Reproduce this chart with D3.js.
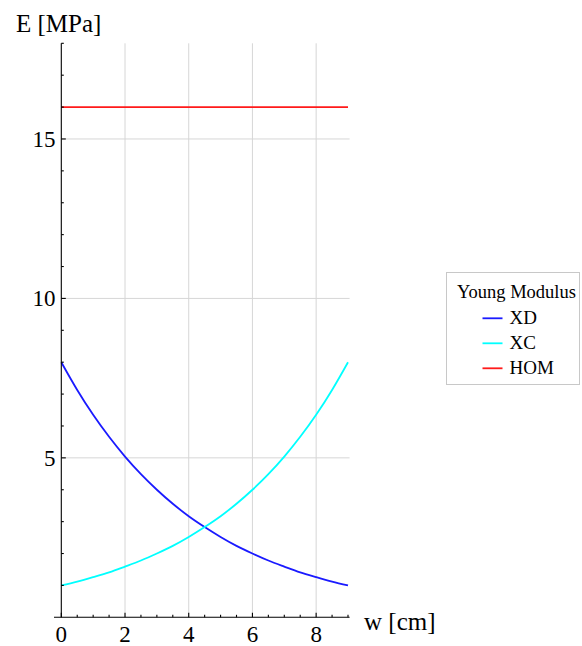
<!DOCTYPE html>
<html>
<head>
<meta charset="utf-8">
<script src="https://cdn.jsdelivr.net/npm/d3@7"></script>
<style>
  html, body { margin: 0; padding: 0; background: #fff; }
  svg { display: block; }
  text { font-family: "Liberation Serif", "Times New Roman", "DejaVu Serif", serif; fill: #000; }
</style>
</head>
<body>
<svg id="chart" width="582" height="646"></svg>
<script>
// ---- data ----
const wValues = [0, 0.5, 1, 1.5, 2, 2.5, 3, 3.5, 4, 4.5, 5, 5.5, 6, 6.5, 7, 7.5, 8, 8.5, 9];
const xdValues = [8, 7.13, 6.35, 5.66, 5.04, 4.49, 4.0, 3.56, 3.17, 2.83, 2.52, 2.24, 2.0, 1.78, 1.59, 1.41, 1.26, 1.12, 1.0];
const xcValues = [1, 1.12, 1.26, 1.41, 1.59, 1.78, 2.0, 2.24, 2.52, 2.83, 3.17, 3.56, 4.0, 4.49, 5.04, 5.66, 6.35, 7.13, 8];
const homValues = [16, 16, 16, 16, 16, 16, 16, 16, 16, 16, 16, 16, 16, 16, 16, 16, 16, 16, 16];
const seriesNames = ["XD", "XC", "HOM"];
const seriesColors = ["#1a1aff", "#00ffff", "#ff1a1a"];
const xMajorTicks = [0, 2, 4, 6, 8];
const xMinorTicks = [0.5, 1, 1.5, 2.5, 3, 3.5, 4.5, 5, 5.5, 6.5, 7, 7.5, 8.5, 9];
const yMajorTicks = [5, 10, 15];
const yMinorTicks = [1, 2, 3, 4, 6, 7, 8, 9, 11, 12, 13, 14, 16, 17, 18];
const legendTitle = "Young Modulus";
const xLabel = "w [cm]";
const yLabel = "E [MPa]";

// ---- scales ----
const x = d3.scaleLinear().domain([0, 9]).range([61.3, 348.0]);
const y = d3.scaleLinear().domain([0, 18]).range([617.3, 43.3]);
const xAxisMin = -0.23, xAxisMax = 9.05;

const svg = d3.select("#chart");

// gridlines
const grid = svg.append("g").attr("stroke", "#d6d6d6").attr("stroke-width", 1);
grid.selectAll("line.v").data(xMajorTicks.filter(d => d !== 0)).join("line")
  .attr("x1", d => x(d)).attr("x2", d => x(d))
  .attr("y1", y(18)).attr("y2", y(0));
grid.selectAll("line.h").data(yMajorTicks).join("line")
  .attr("x1", x(0)).attr("x2", x(xAxisMax))
  .attr("y1", d => y(d)).attr("y2", d => y(d));

// series
const line = d3.line().x((d, i) => x(wValues[i])).y(d => y(d)).curve(d3.curveMonotoneX);
const allSeries = [xdValues, xcValues, homValues];
svg.append("g").selectAll("path").data(allSeries).join("path")
  .attr("d", d => line(d))
  .attr("fill", "none")
  .attr("stroke", (d, i) => seriesColors[i])
  .attr("stroke-width", 1.8);

// axes
const axes = svg.append("g").attr("stroke", "#000").attr("stroke-width", 1.1);
axes.append("line").attr("x1", x(xAxisMin)).attr("x2", x(xAxisMax)).attr("y1", y(0)).attr("y2", y(0));
axes.append("line").attr("x1", x(0)).attr("x2", x(0)).attr("y1", y(18)).attr("y2", y(0));

// x ticks (pointing up)
axes.selectAll("line.xM").data(xMajorTicks).join("line")
  .attr("x1", d => x(d)).attr("x2", d => x(d)).attr("y1", y(0)).attr("y2", y(0) - 4.5);
axes.selectAll("line.xm").data(xMinorTicks).join("line")
  .attr("x1", d => x(d)).attr("x2", d => x(d)).attr("y1", y(0)).attr("y2", y(0) - 2.5);
// y ticks (pointing right)
axes.selectAll("line.yM").data(yMajorTicks).join("line")
  .attr("x1", x(0)).attr("x2", x(0) + 4.5).attr("y1", d => y(d)).attr("y2", d => y(d));
axes.selectAll("line.ym").data(yMinorTicks).join("line")
  .attr("x1", x(0)).attr("x2", x(0) + 2.5).attr("y1", d => y(d)).attr("y2", d => y(d));

// tick labels
svg.append("g").selectAll("text").data(xMajorTicks).join("text")
  .attr("x", d => x(d)).attr("y", 642)
  .attr("text-anchor", "middle").attr("font-size", 23)
  .text(d => d);
svg.append("g").selectAll("text").data(yMajorTicks).join("text")
  .attr("x", 55.5).attr("y", d => y(d) + 8)
  .attr("text-anchor", "end").attr("font-size", 23)
  .text(d => d);

// axis labels
svg.append("text").attr("x", 16).attr("y", 32).attr("font-size", 25).text(yLabel);
svg.append("text").attr("x", 364).attr("y", 630).attr("font-size", 25).text(xLabel);

// legend
const lg = svg.append("g");
lg.append("rect").attr("x", 446.5).attr("y", 272.5).attr("width", 133).attr("height", 112)
  .attr("fill", "#fff").attr("stroke", "#c8c8c8").attr("stroke-width", 1);
lg.append("text").attr("x", 457).attr("y", 298).attr("font-size", 18.5).text(legendTitle);
const rows = lg.selectAll("g.row").data(seriesNames).join("g")
  .attr("transform", (d, i) => `translate(0, ${318.3 + i * 25})`);
rows.append("line").attr("x1", 482.5).attr("x2", 502.5).attr("y1", 0).attr("y2", 0)
  .attr("stroke", (d, i) => seriesColors[i]).attr("stroke-width", 1.8);
rows.append("text").attr("x", 509.5).attr("y", 5.5).attr("font-size", 19).text(d => d);
</script>
</body>
</html>
